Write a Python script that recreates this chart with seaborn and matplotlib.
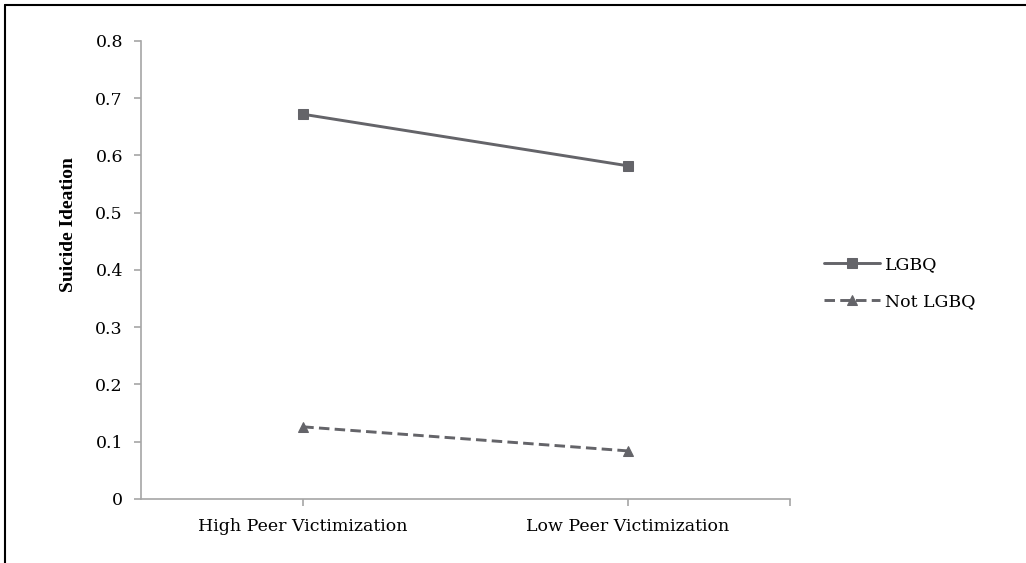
import pandas as pd
import matplotlib.pyplot as plt
import seaborn as sns
from matplotlib.lines import Line2D
from matplotlib.ticker import FuncFormatter

# values
conditions = ["High Peer Victimization", "Low Peer Victimization"]
lgbq = [0.672, 0.582]
not_lgbq = [0.126, 0.084]
groups = ["LGBQ", "Not LGBQ"]

df = pd.DataFrame({
    "condition": conditions * 2,
    "ideation": lgbq + not_lgbq,
    "group": [groups[0]] * 2 + [groups[1]] * 2,
})

sns.set_style("white")
plt.rcParams['font.family'] = ['DejaVu Serif']
plt.rcParams['text.color'] = 'black'

grey = "#646469"
axis_grey = "#a6a6a6"

fig = plt.figure(figsize=(10.26, 5.63), dpi=100)
ax = fig.add_axes([0.1374, 0.1137, 0.6326, 0.8135])

sns.lineplot(data=df, x="condition", y="ideation", hue="group", style="group",
             palette=[grey, grey], markers=["s", "^"], dashes=[(None, None), (3.6, 1.8)],
             markersize=7, linewidth=2.1, markeredgecolor=grey, ax=ax)

ax.set_xlim(-0.5, 1.5)
ax.set_ylim(0, 0.8)
ax.set_yticks([0, 0.1, 0.2, 0.3, 0.4, 0.5, 0.6, 0.7, 0.8])
ax.yaxis.set_major_formatter(FuncFormatter(lambda v, p: "0" if v == 0 else f"{v:.1f}"))
ax.set_xticks([0, 1, 1.5])
ax.set_xticklabels(conditions + [""])

for side in ["top", "right"]:
    ax.spines[side].set_visible(False)
for side in ["left", "bottom"]:
    ax.spines[side].set_color(axis_grey)
    ax.spines[side].set_linewidth(1.2)
ax.tick_params(axis="both", which="major", length=5, width=1.2, color=axis_grey,
               labelsize=12.5, labelcolor="black", direction="out", left=True, bottom=True)
ax.tick_params(axis="x", pad=9)
ax.tick_params(axis="y", pad=8)

ax.set_xlabel("")
ax.set_ylabel("Suicide Ideation", fontsize=14, fontweight="bold", color="black",
              family=["Liberation Serif", "DejaVu Serif"])
ax.yaxis.set_label_coords(-0.098, 0.60)

handles, labels = ax.get_legend_handles_labels()
leg = ax.legend(handles, labels, loc="center left", bbox_to_anchor=(0.788, 0.4965),
                bbox_transform=fig.transFigure, frameon=False, fontsize=12.5,
                handlelength=3.2, labelspacing=1.15, handletextpad=0.3)
for t in leg.get_texts():
    t.set_color("black")

# frame lines on the left and top edge of the picture
fig.add_artist(Line2D([0.005, 0.005], [0, 0.991], transform=fig.transFigure, color="black", linewidth=1.5))
fig.add_artist(Line2D([0.005, 1.0], [0.991, 0.991], transform=fig.transFigure, color="black", linewidth=1.5))

fig.savefig("out.png", dpi=100, facecolor="white")
